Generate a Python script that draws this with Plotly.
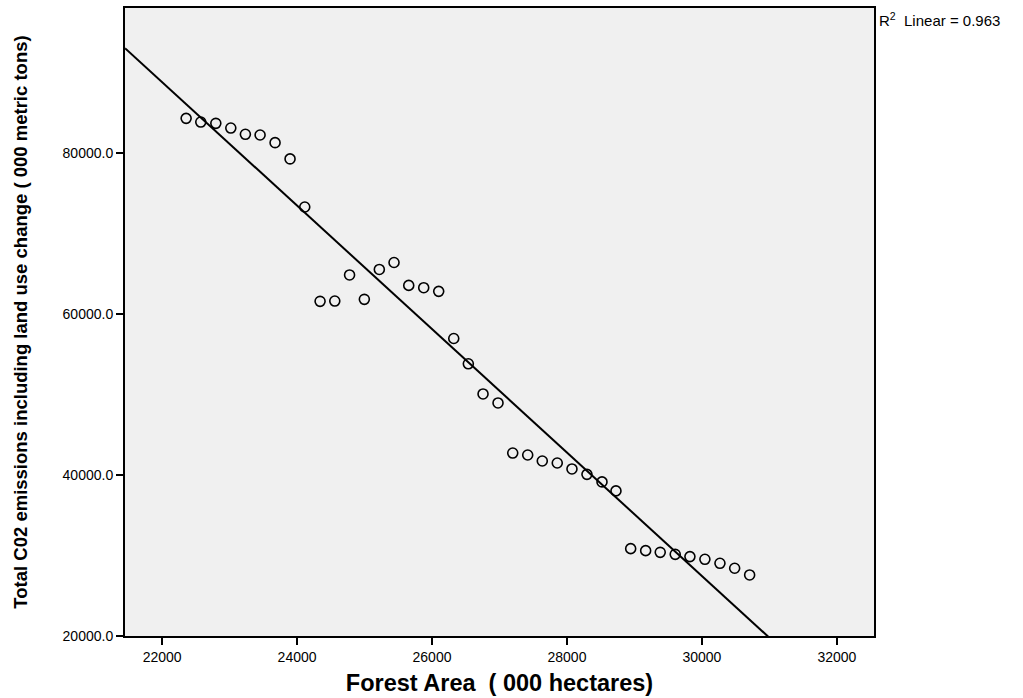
import numpy as np
import plotly.graph_objects as go

# Forest area (000 hectares) and total CO2 emissions incl. land use change (000 metric tons)
forest_area = [
    22356, 22573, 22796, 23018, 23234, 23452, 23674, 23896, 24114,
    24341, 24559, 24778, 24997, 25219, 25437, 25655, 25877, 26099,
    26322, 26538, 26756, 26978, 27196, 27418, 27634, 27856, 28074,
    28296, 28519, 28726, 28944, 29166, 29382, 29604, 29822, 30044,
    30267, 30485, 30707,
]
co2_emissions = [
    84292, 83834, 83674, 83092, 82313, 82226, 81274, 79257, 73282,
    61567, 61604, 64845, 61814, 65525, 66391, 63546, 63261, 62804,
    56952, 53810, 50062, 48948, 42726, 42478, 41736, 41488, 40746,
    40078, 39138, 38025, 30849, 30602, 30392, 30144, 29860, 29526,
    29031, 28412, 27583,
]

x_ticks = [22000, 24000, 26000, 28000, 30000, 32000]
y_ticks = [20000, 40000, 60000, 80000]
x_range = [21450, 32550]
y_range = [20000, 98000]

# Least-squares linear fit
x = np.array(forest_area, dtype=float)
y = np.array(co2_emissions, dtype=float)
slope, intercept = np.polyfit(x, y, 1)
pred = slope * x + intercept
r2 = 1 - np.sum((y - pred) ** 2) / np.sum((y - y.mean()) ** 2)
fit_x = np.array(x_range, dtype=float)
fit_y = slope * fit_x + intercept

fig = go.Figure()
fig.add_trace(go.Scatter(
    x=fit_x, y=fit_y, mode="lines",
    line=dict(color="black", width=2),
    hoverinfo="skip", showlegend=False,
))
fig.add_trace(go.Scatter(
    x=forest_area, y=co2_emissions, mode="markers",
    marker=dict(symbol="circle-open", size=10, color="black",
                line=dict(color="black", width=1.6)),
    showlegend=False,
))

axis_common = dict(
    showgrid=False, zeroline=False,
    showline=True, linecolor="black", linewidth=2, mirror=True,
    ticks="outside", ticklen=7, tickwidth=1.5, tickcolor="black",
    tickfont=dict(family="Liberation Sans, Arial, sans-serif", size=14, color="black"),
)

fig.update_layout(
    width=1023, height=698,
    margin=dict(l=125, r=149, t=6, b=61),
    paper_bgcolor="white", plot_bgcolor="#f0f0f0",
    xaxis=dict(
        range=x_range, tickvals=x_ticks, tickformat="d",
        title=dict(text="<b>Forest Area  ( 000 hectares)</b>",
                   font=dict(family="Liberation Sans, Arial, sans-serif",
                             size=23.5, color="black"),
                   standoff=11),
        **axis_common,
    ),
    yaxis=dict(
        range=y_range, tickvals=y_ticks, tickformat=".1f",
        title=dict(text="<b>Total C02 emissions including land use change ( 000 metric tons)</b>",
                   font=dict(family="Liberation Sans, Arial, sans-serif",
                             size=18.5, color="black"),
                   standoff=30),
        **axis_common,
    ),
    annotations=[dict(
        xref="paper", yref="paper", x=1.004, y=0.982, xanchor="left", yanchor="middle",
        text=f"R<sup>2</sup>  Linear = {r2:.3f}", showarrow=False,
        font=dict(family="Liberation Sans, Arial, sans-serif", size=15, color="black"),
    )],
)

fig.write_html("out.html")
